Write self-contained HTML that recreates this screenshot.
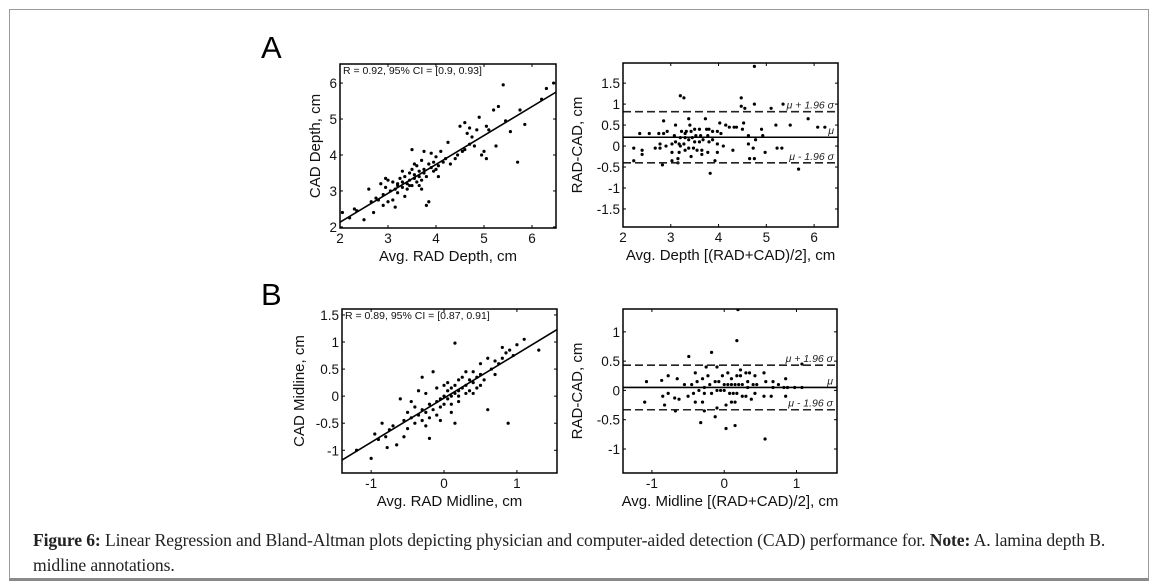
<!DOCTYPE html>
<html><head><meta charset="utf-8">
<style>
html,body{margin:0;padding:0;background:#fff;}
body{width:1154px;height:587px;position:relative;overflow:hidden;font-family:"Liberation Sans",Arial,sans-serif;}
#frame{position:absolute;left:9px;top:9px;width:1140px;height:572px;border:1px solid #9a9a9a;border-bottom:3px solid #8a8a8a;box-sizing:border-box;}
#caption{position:absolute;left:33px;top:528px;width:1102px;font-family:"Liberation Serif",serif;font-size:17.6px;line-height:25px;color:#222;letter-spacing:-0.1px;}
svg{position:absolute;left:0;top:0;}
</style></head>
<body>
<div id="frame"></div>
<svg id="chart" width="1154" height="587"></svg>
<div id="caption"><b>Figure 6:</b> Linear Regression and Bland-Altman plots depicting physician and computer-aided detection (CAD) performance for. <b>Note:</b> A. lamina depth B. midline annotations.</div>
<script>
// ---- Panel A: lamina depth (Avg RAD, CAD) ----
const depthRad = [2.05,2.2,2.3,2.35,2.5,2.6,2.65,2.7,2.75,2.8,2.85,2.9,2.95,3.0,3.05,3.1,3.15,3.2,3.2,3.25,3.3,3.3,3.35,3.35,3.4,3.4,3.45,3.45,3.5,3.5,3.55,3.55,3.6,3.6,3.65,3.65,3.7,3.7,3.75,3.75,3.8,3.8,3.85,3.85,3.9,3.9,3.95,3.95,4.0,4.0,4.05,4.1,4.15,4.2,4.3,4.4,4.45,4.5,4.55,4.6,4.65,4.7,4.75,4.8,4.85,4.9,4.95,5.0,5.05,5.1,5.2,5.25,5.3,5.4,5.45,5.55,5.7,5.75,5.85,6.2,6.3,6.45,3.1,3.2,3.45,3.55,3.65,3.75,3.0,2.9,3.3,3.7,4.05,2.95,3.5,4.25,4.6,4.7,5.05,3.15];
const depthCad = [2.4,2.25,2.5,2.45,2.2,3.05,2.7,2.4,2.8,2.75,3.2,2.9,3.1,2.7,3.0,3.25,3.05,3.2,2.95,3.35,3.1,3.25,2.85,3.4,3.2,3.05,3.5,3.3,3.15,3.6,3.35,3.45,3.25,3.7,3.4,3.55,3.3,3.85,3.5,3.6,2.6,3.4,3.75,2.7,3.65,4.05,3.55,3.8,3.6,3.95,3.7,4.1,3.8,3.9,3.75,3.9,4.0,4.8,4.1,4.9,4.6,4.3,4.5,4.25,4.7,5.05,4.0,4.1,3.9,4.7,5.25,4.25,5.35,5.95,4.95,4.65,3.8,5.25,4.85,5.55,5.85,6.0,2.75,3.15,3.15,3.75,3.15,4.1,3.3,2.6,3.55,3.05,3.4,3.35,4.15,4.35,4.15,4.75,4.8,2.55];
const depthFit = [2.13, 0.804];          // intercept at x=2, slope
const depthBA = [0.21, 0.82, -0.40];     // mean, +1.96sd, -1.96sd
// ---- Panel B: midline ----
const midRad = [-1.2,-1.0,-0.95,-0.9,-0.85,-0.8,-0.78,-0.75,-0.7,-0.65,-0.6,-0.55,-0.55,-0.5,-0.5,-0.45,-0.4,-0.4,-0.35,-0.35,-0.3,-0.3,-0.25,-0.25,-0.2,-0.2,-0.2,-0.15,-0.15,-0.1,-0.1,-0.05,-0.05,0.0,0.0,0.05,0.05,0.1,0.1,0.1,0.15,0.15,0.15,0.2,0.2,0.2,0.25,0.25,0.3,0.3,0.35,0.35,0.4,0.4,0.45,0.45,0.5,0.5,0.55,0.6,0.6,0.65,0.7,0.75,0.8,0.8,0.85,0.88,0.9,0.95,1.0,1.1,1.3,-0.3,-0.45,0.0,0.05,0.1,-0.1,0.3,0.5,-0.25,0.2,0.4,-0.05,0.7,0.15];
const midCad = [-1.0,-1.15,-0.7,-0.8,-0.5,-0.75,-0.95,-0.62,-0.55,-0.9,-0.05,-0.45,-0.75,-0.3,-0.6,-0.4,-0.5,-0.2,0.1,-0.35,-0.45,-0.25,-0.55,-0.3,-0.15,-0.4,-0.78,-0.25,0.45,-0.1,-0.35,-0.05,-0.2,0.0,-0.15,0.1,-0.05,0.15,0.0,-0.3,0.05,0.98,0.2,0.1,0.3,-0.1,0.15,0.35,0.2,0.05,0.3,0.1,0.25,0.45,0.35,0.15,0.4,0.6,0.3,0.7,-0.25,0.5,0.65,0.6,0.9,0.7,0.8,-0.5,0.85,0.75,0.95,1.05,0.85,0.35,-0.1,0.2,0.25,-0.15,0.15,0.45,0.2,0.05,0.0,0.05,-0.45,0.4,-0.5];
const midFit = [-1.18, 0.817];           // y at x=-1.4, slope
const midBA = [0.05, 0.43, -0.33];
const depthXTicks = [2,3,4,5,6];
const depthYTicks = [2,3,4,5,6];
const baDepthYTicks = [-1.5,-1,-0.5,0,0.5,1,1.5];
const midXTicks = [-1,0,1];
const midYTicks = [-1,-0.5,0,0.5,1,1.5];
const baMidYTicks = [-1,-0.5,0,0.5,1];

const NS='http://www.w3.org/2000/svg';
const svg=document.getElementById('chart');
function mk(tag,attrs,parent,txt){const e=document.createElementNS(NS,tag);for(const k in attrs)e.setAttribute(k,attrs[k]);if(txt!==undefined)e.textContent=txt;(parent||svg).appendChild(e);return e;}
function scale(d0,d1,r0,r1){return v=>r0+(v-d0)/(d1-d0)*(r1-r0);}

function panel(o){
  const g=mk('g',{});
  
  
  const X=scale(o.xd[0],o.xd[1],o.box[0],o.box[2]);
  const Y=scale(o.yd[0],o.yd[1],o.box[3],o.box[1]);
  o.xt.forEach(t=>{
    const x=X(t);
    mk('line',{x1:x,x2:x,y1:o.box[3],y2:o.box[3]-3,stroke:'#000','stroke-width':1},g);
    mk('line',{x1:x,x2:x,y1:o.box[1],y2:o.box[1]+3,stroke:'#000','stroke-width':1},g);
    const tl=mk('text',{x:x,y:o.box[3]+15,'font-size':13.5,'text-anchor':'middle',fill:'#111'},g,String(t));
    
    
  });
  o.yt.forEach(t=>{
    const y=Y(t);
    mk('line',{x1:o.box[0],x2:o.box[0]+3,y1:y,y2:y,stroke:'#000','stroke-width':1},g);
    mk('line',{x1:o.box[2],x2:o.box[2]-3,y1:y,y2:y,stroke:'#000','stroke-width':1},g);
    const tl=mk('text',{x:o.box[0]-3,y:y+5,'font-size':13.5,'text-anchor':'end',fill:'#111'},g,String(t));
    
    
  });
  const clip='clip'+o.name;
  const cp=mk('clipPath',{id:clip},g);
  mk('rect',{x:o.box[0],y:o.box[1],width:o.box[2]-o.box[0],height:o.box[3]-o.box[1]},cp);
  const pg=mk('g',{'clip-path':'url(#'+clip+')'},g);
  o.px.forEach((v,i)=>{
    const c=mk('circle',{cx:X(v),cy:Y(o.py[i]),r:1.6,fill:'#000'},pg);
    
    
  });
  if(o.fit){
    const l=mk('line',{x1:X(o.xd[0]),y1:Y(o.fit[0]),x2:X(o.xd[1]),y2:Y(o.fit[0]+o.fit[1]*(o.xd[1]-o.xd[0])),stroke:'#000','stroke-width':1.6},pg);
    
    
    const t=mk('text',{x:o.box[0]+3,y:o.box[1]+10,'font-size':10.5,fill:'#111'},g,o.rtext);
    
    
  }
  if(o.ba){
    const names=['mean-line','upper-limit-line','lower-limit-line'];
    const labs=['μ','μ + 1.96 σ','μ - 1.96 σ'];
    o.ba.forEach((v,i)=>{
      const y=Y(v);
      const l=mk('line',{x1:o.box[0],x2:o.box[2],y1:y,y2:y,stroke:i?'#222':'#000','stroke-width':1.6,'stroke-dasharray':i?'8,4':'none'},pg);
      
      
      const t=mk('text',{x:o.box[2]-4,y:y-3,'font-size':10.5,'font-style':'italic','text-anchor':'end',fill:'#222'},g,labs[i]);
      
      
    });
  }
  const fr=mk('rect',{x:o.box[0],y:o.box[1],width:o.box[2]-o.box[0],height:o.box[3]-o.box[1],fill:'none',stroke:'#000','stroke-width':1.5},g);
  
  
  const xt=mk('text',{x:(o.box[0]+o.box[2])/2,y:o.box[3]+33,'font-size':15,'text-anchor':'middle',fill:'#111'},g,o.xlab);
  
  
  const cy=(o.box[1]+o.box[3])/2, cx=o.ylx;
  const yt=mk('text',{x:cx,y:cy,'font-size':15,'text-anchor':'middle',fill:'#111',transform:'rotate(-90 '+cx+' '+cy+')'},g,o.ylab);
  
  
}

panel({name:'depth-regression',box:[340,64,556,228],xd:[2,6.5],yd:[1.97,6.53],xt:depthXTicks,yt:depthYTicks,px:depthRad,py:depthCad,fit:depthFit,rtext:'R = 0.92, 95% CI = [0.9, 0.93]',xlab:'Avg. RAD Depth, cm',ylab:'CAD Depth, cm',ylx:320});
panel({name:'depth-bland-altman',box:[623,63,838,227],xd:[2,6.5],yd:[-1.93,1.98],xt:depthXTicks,yt:baDepthYTicks,px:depthRad.map((v,i)=>(v+depthCad[i])/2),py:depthRad.map((v,i)=>v-depthCad[i]),ba:depthBA,xlab:'Avg. Depth [(RAD+CAD)/2], cm',ylab:'RAD-CAD, cm',ylx:582});
panel({name:'midline-regression',box:[342,309,557,473],xd:[-1.4,1.55],yd:[-1.42,1.61],xt:midXTicks,yt:midYTicks,px:midRad,py:midCad,fit:midFit,rtext:'R = 0.89, 95% CI = [0.87, 0.91]',xlab:'Avg. RAD Midline, cm',ylab:'CAD Midline, cm',ylx:304});
panel({name:'midline-bland-altman',box:[623,309,837,473],xd:[-1.4,1.56],yd:[-1.41,1.39],xt:midXTicks,yt:baMidYTicks,px:midRad.map((v,i)=>(v+midCad[i])/2),py:midRad.map((v,i)=>v-midCad[i]),ba:midBA,xlab:'Avg. Midline [(RAD+CAD)/2], cm',ylab:'RAD-CAD, cm',ylx:582});

const la=mk('text',{x:261,y:58,'font-size':31,fill:'#000'},svg,'A');


const lb=mk('text',{x:261,y:305,'font-size':31,fill:'#000'},svg,'B');


</script>
</body></html>
